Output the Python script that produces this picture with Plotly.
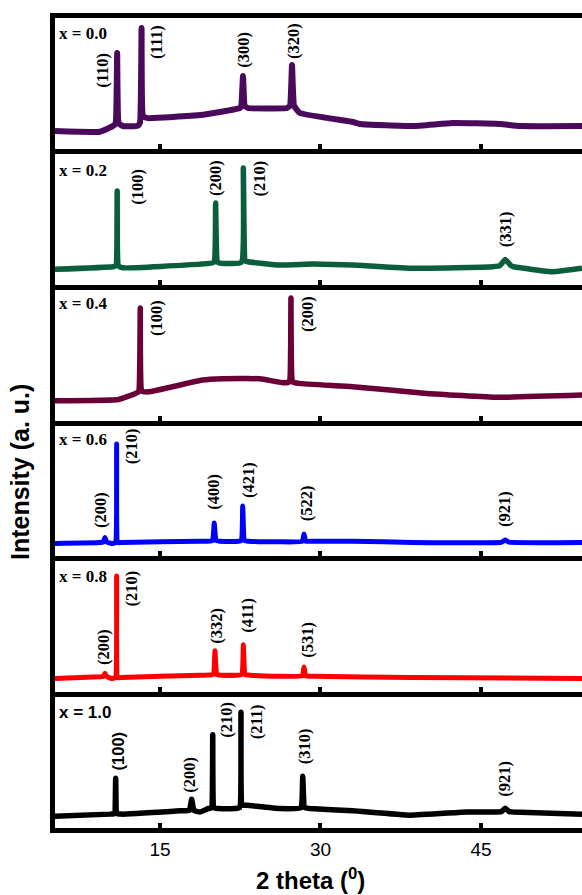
import plotly.graph_objects as go
from plotly.subplots import make_subplots

# ---------------- data (2 theta in degrees, intensity in a.u. per panel, 0-100) ----------------
compositions = ["x = 0.0", "x = 0.2", "x = 0.4", "x = 0.6", "x = 0.8", "x = 1.0"]
colors = ["#4a0a5c", "#0a5e3c", "#6a0036", "#0000ff", "#ff0000", "#000000"]

x_00 = [5.19, 9.39, 10.6, 10.85, 11.0, 11.15, 11.54, 12.9, 13.13, 13.28, 13.43, 13.88, 18.74, 22.48,
        22.6, 22.76, 22.92, 23.22, 26.87, 27.15, 27.34, 27.53, 28.08, 33.04, 33.69, 38.64, 42.38,
        46.78, 48.64, 54.44]
y_00 = [13.6, 13.1, 17.4, 19.5, 73.2, 19.5, 17.4, 17.6, 20.0, 92.4, 25.0, 23.5, 25.8, 31.2,
        33.0, 55.7, 33.0, 31.2, 31.2, 33.0, 64.1, 33.0, 27.4, 20.5, 19.0, 17.4, 19.7,
        19.0, 17.4, 17.4]

x_02 = [5.19, 10.6, 10.88, 11.0, 11.12, 11.54, 18.74, 20.02, 20.2, 20.38, 20.79, 22.6, 22.79, 22.98,
        23.22, 26.2, 29.3, 33.04, 38.64, 46.1, 46.75, 47.27, 47.8, 47.99, 51.73, 54.44]
y_02 = [11.7, 13.7, 14.5, 71.6, 14.5, 12.9, 15.7, 17.0, 62.4, 17.5, 16.3, 17.0, 89.1, 18.0,
        17.5, 15.0, 15.7, 15.0, 12.5, 13.7, 14.5, 19.2, 14.5, 13.7, 9.9, 12.5]

x_04 = [5.19, 11.15, 12.71, 13.0, 13.16, 13.32, 13.93, 18.95, 20.86, 24.33, 26.59, 27.07, 27.24,
        27.41, 27.97, 33.0, 39.94, 46.53, 54.44]
y_04 = [15.1, 16.1, 20.7, 22.0, 85.9, 22.5, 21.9, 30.9, 31.9, 31.9, 28.8, 29.5, 93.6,
        29.5, 28.4, 25.8, 20.7, 17.7, 19.4]

x_06 = [5.19, 9.39, 9.7, 9.86, 10.02, 10.49, 10.83, 10.95, 11.07, 11.42, 18.74, 19.9, 20.07, 20.24,
        20.6, 22.56, 22.73, 22.9, 23.25, 26.2, 28.3, 28.46, 28.62, 29.3, 33.04, 38.64, 46.9, 47.27,
        47.64, 54.44]
y_06 = [9.9, 10.6, 11.0, 14.3, 11.0, 9.9, 10.5, 85.8, 10.5, 10.6, 11.6, 12.0, 25.4, 12.0,
        11.6, 12.0, 38.4, 12.0, 11.6, 11.1, 11.5, 17.0, 11.5, 11.6, 11.6, 10.6, 10.8, 12.4,
        10.8, 10.6]

x_08 = [5.19, 9.39, 9.7, 9.86, 10.02, 10.49, 10.83, 10.95, 11.07, 11.42, 18.74, 19.97, 20.14, 20.31,
        20.76, 22.62, 22.79, 22.96, 23.41, 26.2, 28.3, 28.46, 28.62, 29.3, 38.64, 54.44]
y_08 = [10.5, 11.7, 12.0, 14.5, 12.0, 10.5, 11.0, 88.7, 11.0, 11.2, 13.0, 13.5, 31.7, 13.5,
        13.0, 13.5, 36.3, 13.5, 13.0, 12.2, 12.5, 19.3, 12.5, 12.2, 11.2, 10.5]

x_10 = [5.19, 10.33, 10.74, 10.86, 10.98, 11.42, 16.87, 17.75, 17.96, 18.17, 18.74, 19.51, 19.8,
        19.93, 20.06, 20.45, 22.0, 22.44, 22.57, 22.7, 23.1, 26.21, 28.16, 28.34, 28.52, 29.02,
        33.04, 38.36, 43.69, 46.9, 47.27, 47.64, 47.99, 54.44]
y_10 = [9.0, 10.6, 11.0, 38.1, 11.0, 10.6, 13.1, 13.5, 22.0, 13.5, 12.3, 14.9, 15.3,
        71.3, 15.3, 14.9, 14.9, 15.5, 88.5, 17.5, 17.4, 14.9, 15.5, 39.6, 15.5, 14.9,
        13.1, 9.8, 12.3, 12.5, 15.1, 12.5, 12.3, 10.6]

series_x = [x_00, x_02, x_04, x_06, x_08, x_10]
series_y = [y_00, y_02, y_04, y_06, y_08, y_10]
line_widths = [6, 5.5, 5.5, 5, 5, 5.5]

# composition label position (x, y) per panel
comp_label_x = [5.4, 5.4, 5.4, 5.4, 5.4, 5.4]
comp_label_y = [88.5, 87.6, 89.5, 89.3, 88.7, 88.0]

# peak (hkl) labels: text, x, y per panel
hkl_text = [
    ["(110)", "(111)", "(300)", "(320)"],
    ["(100)", "(200)", "(210)", "(331)"],
    ["(100)", "(200)"],
    ["(200)", "(210)", "(400)", "(421)", "(522)", "(921)"],
    ["(200)", "(210)", "(332)", "(411)", "(531)"],
    ["(100)", "(200)", "(210)", "(211)", "(310)", "(921)"],
]
hkl_x = [
    [9.55, 14.69, 22.79, 27.43],
    [12.88, 20.14, 24.35, 47.27],
    [14.63, 28.77],
    [9.39, 12.36, 19.98, 23.25, 28.71, 47.15],
    [9.7, 12.36, 20.28, 23.1, 28.71],
    [11.1, 17.8, 21.23, 24.04, 28.46, 47.24],
]
hkl_y = [
    [60.2, 81.3, 75.9, 82.4],
    [75.0, 81.5, 81.1, 42.5],
    [78.3, 81.7],
    [35.3, 83.9, 49.5, 58.6, 40.3, 36.1],
    [34.8, 79.1, 51.2, 58.9, 39.8],
    [58.7, 40.7, 82.4, 81.3, 62.5, 37.7],
]

x_ticks = [15, 30, 45]
x_range = [5.19, 54.44]

# ---------------- figure ----------------
serif = "Liberation Serif, Times New Roman, serif"
sans = "Liberation Sans, Arial, sans-serif"

fig = make_subplots(rows=6, cols=1, shared_xaxes=True, vertical_spacing=5 / 810)

for i in range(6):
    fig.add_trace(go.Scatter(x=series_x[i], y=series_y[i], mode="lines",
                             line=dict(color=colors[i], width=line_widths[i],
                                       shape="spline", smoothing=0.35),
                             showlegend=False, hoverinfo="skip"), row=i + 1, col=1)

for i in range(6):
    xref = "x" if i == 0 else f"x{i + 1}"
    yref = "y" if i == 0 else f"y{i + 1}"
    fam = sans if i == 5 else serif
    fig.add_annotation(x=comp_label_x[i], y=comp_label_y[i], xref=xref, yref=yref,
                       text=compositions[i], showarrow=False, xanchor="left", yanchor="middle",
                       font=dict(family=fam, size=17, color="black", weight="bold"))
    for j, t in enumerate(hkl_text[i]):
        f = sans if (i == 5 and j == 0) else serif
        fig.add_annotation(x=hkl_x[i][j], y=hkl_y[i][j], xref=xref, yref=yref, text=t,
                           showarrow=False, textangle=-90, xanchor="center", yanchor="middle",
                           font=dict(family=f, size=16.5, color="black", weight="bold"))

for i in range(6):
    fig.update_xaxes(range=x_range, tickvals=x_ticks, ticks="inside", ticklen=5, tickwidth=4,
                     tickcolor="black", showline=True, linewidth=5, linecolor="black", mirror=True,
                     showgrid=False, zeroline=False, showticklabels=(i == 5),
                     tickfont=dict(family=sans, size=19, color="black"), row=i + 1, col=1)
    fig.update_yaxes(range=[0, 100], showline=True, linewidth=5, linecolor="black", mirror=False,
                     showgrid=False, zeroline=False, showticklabels=False, ticks="",
                     row=i + 1, col=1)

# axis titles
fig.add_annotation(x=0.484, y=-0.0625, xref="paper", yref="paper", text="2 theta (<sup>0</sup>)",
                   showarrow=False, xanchor="center", yanchor="middle",
                   font=dict(family=sans, size=24, color="black", weight="bold"))
fig.add_annotation(x=-0.0664, y=0.4395, xref="paper", yref="paper", text="Intensity (a. u.)",
                   showarrow=False, textangle=-90, xanchor="center", yanchor="middle",
                   font=dict(family=sans, size=25, color="black", weight="bold"))

fig.update_layout(width=582, height=895, margin=dict(l=55, r=0, t=18, b=67),
                  paper_bgcolor="white", plot_bgcolor="white")

fig.write_html("out.html")
